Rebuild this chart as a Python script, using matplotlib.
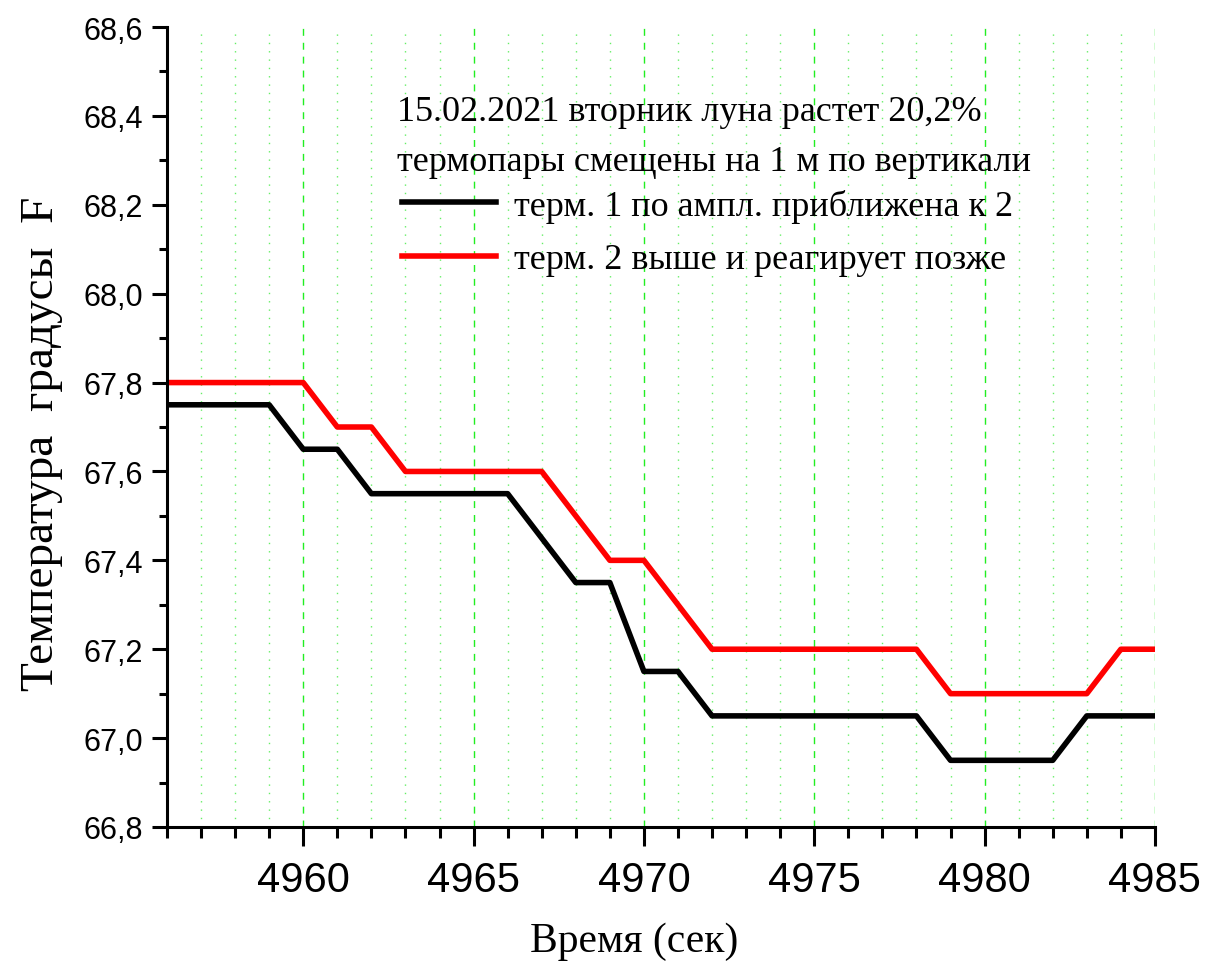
import matplotlib.pyplot as plt
from matplotlib.ticker import MultipleLocator, FuncFormatter

# Время, сек
t = [4956, 4957, 4958, 4959, 4960, 4961, 4962, 4963, 4964, 4965,
     4966, 4967, 4968, 4969, 4970, 4971, 4972, 4973, 4974, 4975,
     4976, 4977, 4978, 4979, 4980, 4981, 4982, 4983, 4984, 4985]

# термопара 1
term1 = [67.75, 67.75, 67.75, 67.75, 67.65, 67.65, 67.55, 67.55, 67.55, 67.55,
         67.55, 67.45, 67.35, 67.35, 67.15, 67.15, 67.05, 67.05, 67.05, 67.05,
         67.05, 67.05, 67.05, 66.95, 66.95, 66.95, 66.95, 67.05, 67.05, 67.05]

# термопара 2
term2 = [67.8, 67.8, 67.8, 67.8, 67.8, 67.7, 67.7, 67.6, 67.6, 67.6,
         67.6, 67.6, 67.5, 67.4, 67.4, 67.3, 67.2, 67.2, 67.2, 67.2,
         67.2, 67.2, 67.2, 67.1, 67.1, 67.1, 67.1, 67.1, 67.2, 67.2]

label1 = "терм. 1 по ампл. приближена к 2"
label2 = "терм. 2 выше и реагирует позже"
header = ["15.02.2021 вторник луна растет 20,2%",
          "термопары смещены на 1 м по вертикали"]

serif = ["Liberation Serif", "DejaVu Serif"]
sans = ["Liberation Sans", "DejaVu Sans"]

fig = plt.figure(figsize=(12.17, 9.70), dpi=100)
ax = fig.add_axes([0.1372, 0.1464, 0.949 - 0.1372, 0.9711 - 0.1464])

ax.plot(t, term1, color="black", lw=4, label=label1, solid_joinstyle="round")
ax.plot(t, term2, color="red", lw=4, label=label2, solid_joinstyle="round")

ax.set_xlim(4956, 4985)
ax.set_ylim(66.8, 68.6)

ax.xaxis.set_major_locator(MultipleLocator(5))
ax.xaxis.set_minor_locator(MultipleLocator(1))
ax.yaxis.set_major_locator(MultipleLocator(0.2))
ax.yaxis.set_minor_locator(MultipleLocator(0.1))
ax.yaxis.set_major_formatter(FuncFormatter(lambda v, p: f"{v:.1f}".replace(".", ",")))

# вертикальная сетка: штрих на основных делениях, точки на промежуточных
ax.grid(which="major", axis="x", color="#22ee22", ls=(0, (5, 5)), lw=1.0)
ax.grid(which="minor", axis="x", color="#66ee66", ls=(0, (1, 5)), lw=1.0)

for s in ["top", "right"]:
    ax.spines[s].set_visible(False)
for s in ["left", "bottom"]:
    ax.spines[s].set_linewidth(2.2)

ax.tick_params(axis="x", which="major", direction="out", length=14, width=2.2)
ax.tick_params(axis="x", which="minor", direction="out", length=8, width=2.2)
ax.tick_params(axis="y", which="major", direction="out", length=11, width=2.2)
ax.tick_params(axis="y", which="minor", direction="out", length=6, width=2.2)
ax.tick_params(axis="x", labelsize=30, pad=10)
ax.tick_params(axis="y", labelsize=22, pad=6)
for lab in ax.get_xticklabels() + ax.get_yticklabels():
    lab.set_family(sans)

ax.set_xlabel("Время (сек)", fontsize=30, family=serif)
ax.xaxis.set_label_coords(0.473, -0.118)
ax.set_ylabel("Температура  градусы  F", fontsize=34, family=serif)
ax.yaxis.set_label_coords(-0.105, 0.48)

ax.text(0.233, 0.894, header[0], transform=ax.transAxes, fontsize=26,
        family=serif, va="center")
ax.text(0.233, 0.832, header[1], transform=ax.transAxes, fontsize=26,
        family=serif, va="center")
ax.legend(loc="upper left", bbox_to_anchor=(0.205, 0.838), frameon=False,
          prop={"family": serif, "size": 26}, handlelength=2.6,
          handletextpad=0.5, labelspacing=0.55)

fig.savefig("out.png", dpi=100)
